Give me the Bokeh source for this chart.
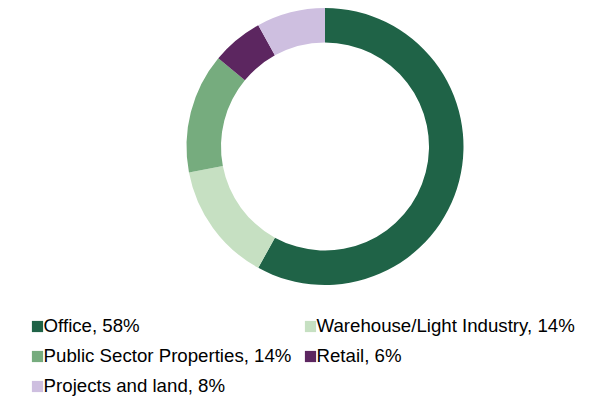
import numpy as np
from bokeh.plotting import figure
from bokeh.models import Range1d, ColumnDataSource, Legend, LegendItem
from bokeh.embed import file_html
from bokeh.resources import INLINE

categories = ["Office", "Warehouse/Light Industry", "Public Sector Properties", "Retail", "Projects and land"]
values = [58, 14, 14, 6, 8]
colors = ["#1F6347", "#C6E0C2", "#76AC7E", "#5C2660", "#CEBFE0"]
labels = [f"{c}, {v}%" for c, v in zip(categories, values)]

W, H = 579, 400
cx, cy = 324.5, 146.0  # donut centre in screen px from top-left
r_out, r_in = 138.5, 104

frac = np.array(values, dtype=float) / np.sum(values)
cum = np.concatenate([[0], np.cumsum(frac)])
start = np.pi / 2 - cum[:-1] * 2 * np.pi
end = np.pi / 2 - cum[1:] * 2 * np.pi

src = ColumnDataSource(dict(x=[0] * len(values), y=[0] * len(values), start=start, end=end,
                            color=colors, label=labels))

p = figure(width=W, height=H, output_backend="svg", toolbar_location=None,
           x_range=Range1d(-cx, W - cx), y_range=Range1d(-(H - cy), cy),
           x_axis_type=None, y_axis_type=None, min_border=0)
p.outline_line_color = None
p.grid.visible = False
p.background_fill_color = "white"
p.border_fill_color = "white"

r = p.annular_wedge(x="x", y="y", inner_radius=r_in, outer_radius=r_out,
                    start_angle="start", end_angle="end", direction="clock",
                    fill_color="color", line_color=None, source=src)

def make_legend(idx, loc):
    items = [LegendItem(label=labels[i], renderers=[r], index=i) for i in idx]
    leg = Legend(items=items, location=loc, orientation="vertical",
                 glyph_width=14, glyph_height=14, label_standoff=0,
                 label_text_font="Liberation Sans", label_text_font_size="14pt",
                 label_text_color="#000000", label_height=14,
                 spacing=8, padding=0, margin=0,
                 border_line_color=None, background_fill_alpha=0)
    return leg

p.add_layout(make_legend([0, 2, 4], (29.6, 3)), "center")
p.add_layout(make_legend([1, 3], (302.5, 33)), "center")

open("out.html", "w").write(file_html(p, INLINE))
